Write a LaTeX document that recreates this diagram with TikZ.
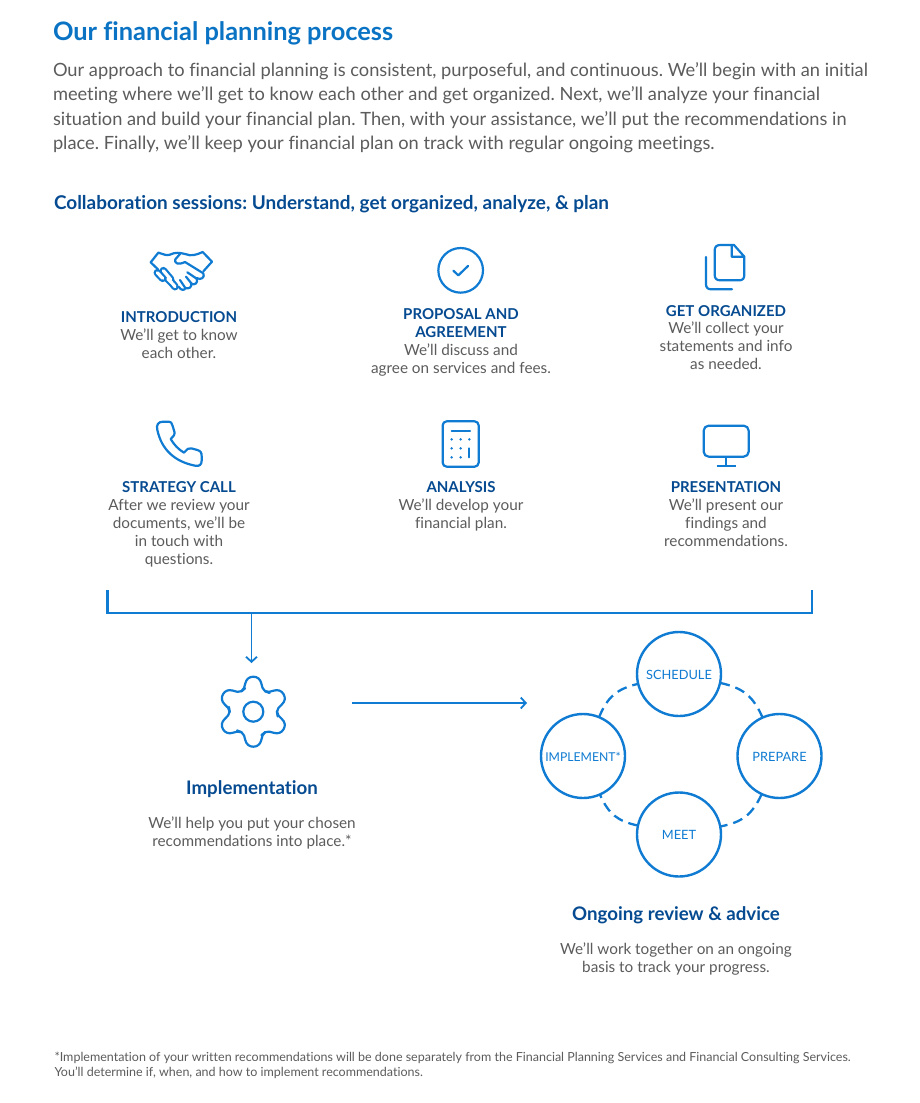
\documentclass[tikz,border=0pt]{standalone}
\usepackage{fontspec}
\setmainfont{Lato}[Ligatures=NoCommon]
\usetikzlibrary{arrows.meta}
\definecolor{titleblue}{HTML}{0A73C4}
\definecolor{darkblue}{HTML}{064B91}
\definecolor{bodygray}{HTML}{5C5C5C}
\definecolor{iconblue}{HTML}{0F7BD2}
\newcommand{\fs}[2]{\fontsize{#1}{#2}\selectfont\frenchspacing}
\newcommand{\lowered}[1]{\raisebox{-5.1pt}[0pt][0pt]{#1}}
\tikzset{
  x=1pt,y=-1pt,
  every node/.style={inner sep=0pt,outer sep=0pt},
  titletext/.style={anchor=north west,text=titleblue,font=\fs{25.4}{28}\bfseries},
  lead/.style={anchor=north west,align=left,text=bodygray,font=\fs{18.25}{24.4}},
  subhead/.style={anchor=north west,text=darkblue,font=\fs{18.95}{22}\bfseries},
  cardhead/.style={anchor=north,align=center,text=darkblue,font=\fs{15}{18}\bfseries},
  carddesc/.style={anchor=north,align=center,text=bodygray,font=\fs{15.3}{18}},
  bighead/.style={anchor=north,align=center,text=darkblue,font=\fs{18.7}{22}\bfseries},
  foot/.style={anchor=north west,align=left,text=bodygray,font=\fs{12.5}{15}},
  icon/.style={draw=iconblue,line width=2.2pt,line join=round,line cap=round},
  link/.style={draw=iconblue,line width=1.8pt},
  arrowlink/.style={link,-{Straight Barb[length=5pt,width=11pt,line width=1.8pt]}},
  stage/.style={circle,draw=iconblue,line width=2.4pt,minimum size=84pt,text=iconblue,font=\fs{12.8}{15},fill=white},
  dash link/.style={draw=iconblue,line width=2.3pt,dash pattern=on 10pt off 6pt,bend left=27,looseness=1.1},
}
\begin{document}
\begin{tikzpicture}
\useasboundingbox (0,0) rectangle (920,1103);
\fill[white] (0,0) rectangle (920,1103);
\node[titletext] (title) at (53,20.5) {\strut Our financial planning process};
\node[lead] (intro) at (53,59.5) {\strut Our approach to financial planning is consistent, purposeful, and continuous. We’ll begin with an initial\\
meeting where we’ll get to know each other and get organized. Next, we’ll analyze your financial\\
situation and build your financial plan. Then, with your assistance, we’ll put the recommendations in\\
place. Finally, we’ll keep your financial plan on track with regular ongoing meetings.};
\node[subhead] (sub) at (54,194.5) {\strut Collaboration sessions: Understand, get organized, analyze, \& plan};

% handshake icon
\begin{scope}[shift={(130,230)},scale=1/3]
\draw[icon] (62,97) -- (85,68) .. controls (100,72) and (108,78) .. (120,74) .. controls (135,66) and (150,68) .. (165,72) .. controls (185,80) and (200,74) .. (218,66) -- (246,95) -- (220,124);
\draw[icon] (150,72) -- (136,88) .. controls (132,100) and (145,106) .. (165,96) -- (220,130) .. controls (226,142) and (212,152) .. (200,144);
\draw[icon] (62,97) -- (84,118);
\draw[icon] (172,127) -- (200,146) .. controls (205,158) and (195,168) .. (182,160) (168,140) -- (184,160) .. controls (186,172) and (176,178) .. (166,174) (150,150) -- (166,174) .. controls (165,182) and (152,182) .. (146,170);
\foreach \a/\b/\c/\d in {82/128/98/145, 100/122/122/148, 113/146/125/158, 127/160/135/170}
  \draw[draw=iconblue,line width=7.6pt,line cap=round] (\a,\b) -- (\c,\d);
\foreach \a/\b/\c/\d in {82/128/98/145, 100/122/122/148, 113/146/125/158, 127/160/135/170}
  \draw[draw=white,line width=3.2pt,line cap=round] (\a,\b) -- (\c,\d);
\end{scope}

% check circle icon
\begin{scope}[shift={(420,235)},scale=1/3]
\draw[icon] (122,106) circle[radius=67];
\draw[icon] (100,107) -- (115,121) -- (144,93);
% document icon
\draw[icon] (935,30) -- (900,30) .. controls (890,30) and (884,36) .. (884,46) -- (884,120) .. controls (884,130) and (890,136) .. (900,136) -- (958,136) .. controls (968,136) and (973,130) .. (973,120) -- (973,65) -- (942,30) -- (935,30) -- (935,65) -- (973,65);
\draw[icon] (858,66) -- (858,148) .. controls (858,158) and (864,163) .. (874,163) -- (936,163);
\end{scope}

% phone icon
\begin{scope}[shift={(140,410)},scale=1/3]
\draw[icon] (52,60) .. controls (48,44) and (55,35) .. (70,35) -- (84,35) .. controls (94,35) and (96,40) .. (98,48) -- (104,68) .. controls (105,74) and (102,76) .. (92,87) .. controls (102,104) and (115,118) .. (132,128) .. controls (142,118) and (145,112) .. (154,115) -- (172,120) .. controls (182,123) and (185,128) .. (185,138) -- (185,152) .. controls (185,164) and (178,170) .. (165,167) .. controls (105,155) and (65,120) .. (52,60) -- cycle;
% calculator icon
\draw[icon,rounded corners=4pt] (908,34) rectangle (1016,170);
\draw[icon] (935,62) -- (990,62);
\foreach \px/\py in {935/88,962/88,988/88,935/115,962/115,935/142,962/142}
  \fill[iconblue] (\px,\py) circle[radius=4];
\draw[icon] (988,115) -- (988,142);
\end{scope}

% monitor icon
\begin{scope}[shift={(690,415)},scale=1/3]
\draw[icon,rounded corners=5pt] (41,32) rectangle (176,125);
\draw[icon,line cap=butt] (108,125) -- (108,152);
\draw[icon,line cap=butt] (80,152) -- (137,152);
\end{scope}

% cards
\node[cardhead] (h1) at (179,309.5) {\strut INTRODUCTION};
\node[carddesc] (d1) at (179,328) {\strut We’ll get to know\\each other.};
\node[cardhead] (h2) at (461,306.5) {\strut PROPOSAL AND\\AGREEMENT};
\node[carddesc] (d2) at (461,342.5) {\strut We’ll discuss and\\agree on services and fees.};
\node[cardhead] (h3) at (726,303.5) {\strut GET ORGANIZED};
\node[carddesc] (d3) at (726,321) {\strut We’ll collect your\\statements and info\\as needed.};
\node[cardhead] (h4) at (179,479.5) {\strut STRATEGY CALL};
\node[carddesc] (d4) at (179,498) {\strut After we review your\\documents, we’ll be\\in touch with\\questions.};
\node[cardhead] (h5) at (461,479.5) {\strut ANALYSIS};
\node[carddesc] (d5) at (461,498) {\strut We’ll develop your\\financial plan.};
\node[cardhead] (h6) at (726,479.5) {\strut PRESENTATION};
\node[carddesc] (d6) at (726,498) {\strut We’ll present our\\findings and\\recommendations.};

% bracket
\coordinate (bl) at (107.5,590);
\coordinate (blc) at (107.5,613);
\coordinate (brc) at (812,613);
\coordinate (br) at (812,590);
\coordinate (bm) at (251.5,613);
\coordinate (gtop) at (251.5,663);
\coordinate (gright) at (352,703);
\coordinate (cyc) at (527,703);
\draw[link,line width=2.1pt] (bl) -- (blc) -- (brc) -- (br);
\draw[arrowlink] (bm) -- (gtop);
\draw[arrowlink] (gright) -- (cyc);

% gear
\foreach \k in {0,60,...,300}
  \draw[icon,shift={(253.3,711.7)},rotate=\k,scale=1/3] (-36,-61) .. controls (-27,-66.5) and (-27,-75) .. (-24,-85) .. controls (-21,-98) and (-12,-105) .. (0,-105) .. controls (12,-105) and (21,-98) .. (24,-85) .. controls (27,-75) and (27,-66.5) .. (36,-61);
\foreach \k in {0,60,...,300}
  \draw[icon,shift={(253.3,711.7)},rotate=\k,scale=1/3] (36,-61) .. controls (40,-59) and (44,-57) .. (48.8,-56.2);
\draw[icon] (253.3,711.7) circle[radius=10];
\node[bighead] (impl) at (252,779) {\strut Implementation};
\node[carddesc] (impld) at (252,816) {\strut We’ll help you put your chosen\\recommendations into place.*};

% cycle
\node[stage] (sch) at (679,674) {\lowered{SCHEDULE}};
\node[stage] (pre) at (779.5,756) {\lowered{PREPARE}};
\node[stage] (mee) at (679,834.5) {\lowered{MEET}};
\node[stage,font=\fs{12.2}{15}] (imp) at (583,756) {\lowered{IMPLEMENT*}};
\draw[dash link] (sch) to (pre);
\draw[dash link] (pre) to (mee);
\draw[dash link] (mee) to (imp);
\draw[dash link] (imp) to (sch);
\node[bighead] (ong) at (676,905) {\strut Ongoing review \& advice};
\node[carddesc] (ongd) at (676,942) {\strut We’ll work together on an ongoing\\basis to track your progress.};

\node[foot] (fn) at (54.5,1051) {\strut *Implementation of your written recommendations will be done separately from the Financial Planning Services and Financial Consulting Services.\\You’ll determine if, when, and how to implement recommendations.};
\end{tikzpicture}
\end{document}
